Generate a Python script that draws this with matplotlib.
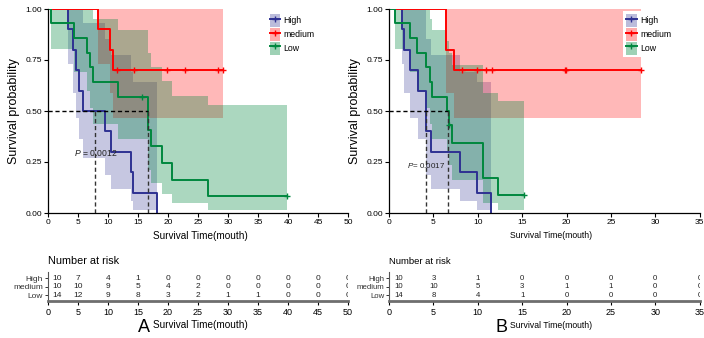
import matplotlib
matplotlib.use('Agg')
import matplotlib.pyplot as plt
from matplotlib.patches import Patch
from matplotlib.lines import Line2D
from matplotlib.legend_handler import HandlerTuple

NARROW = ['Liberation Sans Narrow', 'Liberation Sans', 'DejaVu Sans']
REG = ['Liberation Sans', 'DejaVu Sans']
plt.rcParams['font.family'] = NARROW
plt.rcParams['mathtext.fontset'] = 'custom'
plt.rcParams['mathtext.it'] = 'Liberation Sans:italic'
plt.rcParams['mathtext.rm'] = 'Liberation Sans'

# ---------------- data ----------------
groups = ['High', 'medium', 'Low']

# Panel A
A_high_t = [0, 3.4, 4.1, 4.6, 5.2, 5.8, 9.5, 10.5, 13.8, 14.1, 18.1]
A_high_s = [1, 0.9, 0.8, 0.7, 0.6, 0.5, 0.4, 0.3, 0.2, 0.1, 0.0]
A_high_lo = [1, 0.732, 0.587, 0.467, 0.362, 0.269, 0.187, 0.116, 0.058, 0.016, 0.0]
A_high_hi = [1, 1.0, 1.0, 1.0, 0.995, 0.929, 0.854, 0.773, 0.692, 0.643, 0.0]
A_high_ct = []
A_high_cs = []

A_med_t = [0, 8.4, 10.3, 10.9, 29.1]
A_med_s = [1, 0.9, 0.8, 0.7, 0.7]
A_med_lo = [1, 0.732, 0.587, 0.467, 0.467]
A_med_hi = [1, 1.0, 1.0, 1.0, 1.0]
A_med_ct = [11.5, 14.4, 19.8, 22.8, 28.3, 29.1]
A_med_cs = [0.7, 0.7, 0.7, 0.7, 0.7, 0.7]

A_low_t = [0, 0.55, 4.3, 6.5, 7.05, 7.5, 11.7, 16.7, 17.1, 19.05, 20.6, 26.6, 39.9]
A_low_s = [1, 0.929, 0.857, 0.786, 0.714, 0.643, 0.571, 0.408, 0.327, 0.245, 0.163, 0.082, 0.082]
A_low_lo = [1, 0.803, 0.692, 0.598, 0.513, 0.435, 0.363, 0.213, 0.149, 0.093, 0.047, 0.013, 0.013]
A_low_hi = [1, 1.0, 1.0, 1.0, 0.995, 0.950, 0.899, 0.783, 0.716, 0.645, 0.573, 0.530, 0.530]
A_low_ct = [15.7, 39.9]
A_low_cs = [0.571, 0.082]

A_median_y = 0.5
A_median_x = [7.8, 16.6]
A_pvalue = 'P = 0.0012'

A_risk_t = [0, 5, 10, 15, 20, 25, 30, 35, 40, 45, 50]
A_risk_high = [10, 7, 4, 1, 0, 0, 0, 0, 0, 0, 0]
A_risk_med = [10, 10, 9, 5, 4, 2, 0, 0, 0, 0, 0]
A_risk_low = [14, 12, 9, 8, 3, 2, 1, 1, 0, 0, 0]

# Panel B
B_high_t = [0, 1.43, 1.69, 2.36, 3.26, 4.13, 4.69, 7.95, 9.86, 11.48]
B_high_s = [1, 0.9, 0.8, 0.7, 0.6, 0.4, 0.3, 0.2, 0.1, 0.0]
B_high_lo = [1, 0.732, 0.587, 0.467, 0.362, 0.187, 0.116, 0.058, 0.016, 0.0]
B_high_hi = [1, 1.0, 1.0, 1.0, 0.995, 0.854, 0.773, 0.692, 0.643, 0.0]
B_high_ct = []
B_high_cs = []

B_med_t = [0, 6.38, 7.31, 28.4]
B_med_s = [1, 0.8, 0.7, 0.7]
B_med_lo = [1, 0.587, 0.467, 0.467]
B_med_hi = [1, 1.0, 1.0, 1.0]
B_med_ct = [8.25, 9.86, 10.9, 11.6, 19.8, 19.95, 28.4]
B_med_cs = [0.7, 0.7, 0.7, 0.7, 0.7, 0.7, 0.7]

B_low_t = [0, 0.64, 2.33, 3.11, 4.16, 4.58, 4.8, 6.49, 6.71, 7.09, 10.58, 12.27, 15.2]
B_low_s = [1, 0.929, 0.857, 0.786, 0.714, 0.643, 0.571, 0.5, 0.429, 0.343, 0.171, 0.086, 0.086]
B_low_lo = [1, 0.803, 0.692, 0.598, 0.513, 0.435, 0.363, 0.296, 0.234, 0.163, 0.050, 0.013, 0.013]
B_low_hi = [1, 1.0, 1.0, 1.0, 0.995, 0.950, 0.899, 0.844, 0.785, 0.724, 0.588, 0.547, 0.547]
B_low_ct = [6.8, 15.2]
B_low_cs = [0.429, 0.086]

B_median_y = 0.5
B_median_x = [4.13, 6.7]
B_pvalue = 'P= 0.0017'

B_risk_t = [0, 5, 10, 15, 20, 25, 30, 35]
B_risk_high = [10, 3, 1, 0, 0, 0, 0, 0]
B_risk_med = [10, 10, 5, 3, 1, 1, 0, 0]
B_risk_low = [14, 8, 4, 1, 0, 0, 0, 0]

y_ticks = [0.0, 0.25, 0.5, 0.75, 1.0]

# ---------------- style ----------------
COL = {'High': '#2E3192', 'medium': '#FF0000', 'Low': '#00873E'}
ALPHA = {'High': 0.27, 'medium': 0.28, 'Low': 0.33}

W, H = 704, 338
fig = plt.figure(figsize=(W / 100, H / 100), dpi=100)


def rect(l, t, w, h):
    return [l / W, 1 - (t + h) / H, w / W, h / H]


def ftext(x, y, s, **kw):
    fig.text(x / W, 1 - y / H, s, **kw)


def km_panel(left, width, xmax, curves, med_x, med_y, ptxt, ppos, legpos, fs_p):
    ax = fig.add_axes(rect(left, 9, width, 204))
    for g in groups:
        t, s, lo, hi, ct, cs = curves[g]
        ax.fill_between(t, lo, hi, step='post', color=COL[g], alpha=ALPHA[g], lw=0)
    for g in groups:
        t, s, lo, hi, ct, cs = curves[g]
        ax.step(t, s, where='post', color=COL[g], lw=1.4)
        if ct:
            ax.plot(ct, cs, '+', color=COL[g], ms=5, mew=1.0, ls='none')
    ax.plot([0, max(med_x)], [med_y, med_y], color='black', ls=(0, (3, 2)), lw=1.0)
    for mx in med_x:
        ax.plot([mx, mx], [0, med_y], color='#333333', ls=(0, (3, 2)), lw=1.0)
    ax.text(ppos[0], ppos[1], ptxt.replace('P', '$P$', 1), fontsize=fs_p, color='#222222',
            va='center', ha='left')
    ax.set_xlim(0, xmax)
    ax.set_ylim(0, 1)
    ax.set_xticks(range(0, xmax + 1, 5))
    ax.set_yticks(y_ticks)
    ax.set_yticklabels(['%.2f' % v for v in y_ticks])
    for sp in ['top', 'right']:
        ax.spines[sp].set_visible(False)
    for sp in ['left', 'bottom']:
        ax.spines[sp].set_linewidth(0.9)
    ax.tick_params(labelsize=6, length=3, width=0.8, pad=1.5)
    ax.set_ylabel('Survival probability', family=REG, fontsize=9, labelpad=4)
    handles = []
    for g in groups:
        handles.append((Patch(facecolor=COL[g], alpha=ALPHA[g] + 0.05, lw=0),
                        Line2D([], [], color=COL[g], marker='+', ms=5, mew=1.0, lw=1.4)))
    leg = ax.legend(handles, groups, handler_map={tuple: HandlerTuple(ndivide=1, pad=0)},
                    loc='upper left', bbox_to_anchor=legpos, fontsize=6.3,
                    handlelength=1.25, handleheight=1.85, handletextpad=0.35,
                    labelspacing=0.15, borderpad=0.3, frameon=True, fancybox=False)
    leg.get_frame().set_facecolor('white')
    leg.get_frame().set_edgecolor('none')
    leg.get_frame().set_alpha(1)
    return ax


def risk_panel(left, width, xmax, risk_t, rows, fs):
    ax = fig.add_axes(rect(left, 272, width, 29))
    ax.set_xlim(0, xmax)
    ax.set_ylim(-0.7, 2.75)
    order = ['Low', 'medium', 'High']
    for i, g in enumerate(order):
        for t, n in zip(risk_t, rows[g]):
            xx = t if t > 0 else t + 0.03 * xmax
            ax.text(xx, i, str(n), ha='center', va='center', fontsize=fs,
                    color='#222222', clip_on=True)
    ax.set_yticks([0, 1, 2])
    ax.set_yticklabels(order)
    ax.set_xticks(risk_t)
    for sp in ['top', 'right']:
        ax.spines[sp].set_visible(False)
    ax.spines['bottom'].set_linewidth(2.0)
    ax.spines['bottom'].set_color('#6e6e6e')
    ax.spines['left'].set_linewidth(0.8)
    ax.spines['left'].set_color('#555555')
    ax.tick_params(axis='y', labelsize=fs, length=2.5, width=0.7, pad=1, colors='#333333')
    ax.tick_params(axis='x', labelsize=6.5, length=3, width=0.8, pad=2)
    return ax


curvesA = {
    'High': (A_high_t, A_high_s, A_high_lo, A_high_hi, A_high_ct, A_high_cs),
    'medium': (A_med_t, A_med_s, A_med_lo, A_med_hi, A_med_ct, A_med_cs),
    'Low': (A_low_t, A_low_s, A_low_lo, A_low_hi, A_low_ct, A_low_cs),
}
curvesB = {
    'High': (B_high_t, B_high_s, B_high_lo, B_high_hi, B_high_ct, B_high_cs),
    'medium': (B_med_t, B_med_s, B_med_lo, B_med_hi, B_med_ct, B_med_cs),
    'Low': (B_low_t, B_low_s, B_low_lo, B_low_hi, B_low_ct, B_low_cs),
}

km_panel(48, 300, 50, curvesA, A_median_x, A_median_y, A_pvalue, (4.3, 0.296),
         (0.715, 1.01), 6.2)
km_panel(389, 310.7, 35, curvesB, B_median_x, B_median_y, B_pvalue, (2.0, 0.235),
         (0.74, 1.01), 5.8)

risk_panel(48, 300, 50, A_risk_t, {'High': A_risk_high, 'medium': A_risk_med, 'Low': A_risk_low}, 6)
risk_panel(389, 310.7, 35, B_risk_t, {'High': B_risk_high, 'medium': B_risk_med, 'Low': B_risk_low}, 5.6)

# labels
ftext(153, 236, 'Survival Time(mouth)', fontsize=7.2, ha='left', va='center')
ftext(510, 236, 'Survival Time(mouth)', fontsize=6.2, ha='left', va='center')
ftext(48, 261, 'Number at risk', fontsize=7.8, ha='left', va='center')
ftext(389, 261, 'Number at risk', fontsize=6.8, ha='left', va='center')
ftext(144, 327, 'A', fontsize=13, ha='center', va='center')
ftext(153, 325, 'Survival Time(mouth)', fontsize=7.2, ha='left', va='center')
ftext(502, 327, 'B', fontsize=13, ha='center', va='center')
ftext(510, 325, 'Survival Time(mouth)', fontsize=6.2, ha='left', va='center')

fig.savefig('out.png', dpi=100, facecolor='white')
